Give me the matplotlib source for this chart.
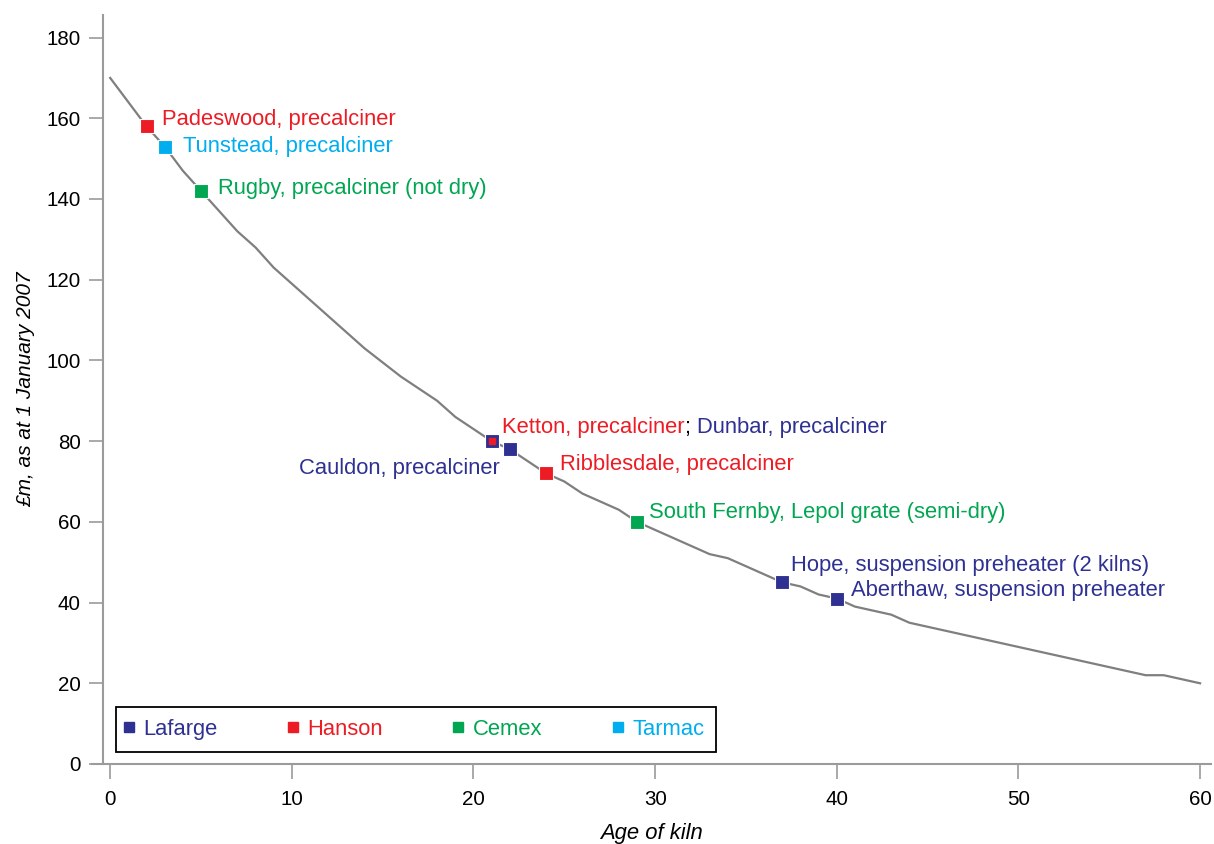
import matplotlib
matplotlib.use("Agg")
import matplotlib.pyplot as plt
from matplotlib.lines import Line2D

plt.rcParams['font.family'] = ['Liberation Sans', 'DejaVu Sans']

# value curve, £m by age of kiln
ages = list(range(0, 61))
values = [170, 164, 158, 153, 147, 142, 137, 132, 128, 123,
          119, 115, 111, 107, 103, 99.5, 96, 93, 90, 86,
          83, 80, 78, 75, 72, 70, 67, 65, 63, 60,
          58, 56, 54, 52, 51, 49, 47, 45, 44, 42,
          41, 39, 38, 37, 35, 34, 33, 32, 31, 30,
          29, 28, 27, 26, 25, 24, 23, 22, 22, 21, 20]

# kilns
kiln_age = [2, 3, 5, 22, 24, 29, 37, 40]
kiln_val = [158, 153, 142, 78, 72, 60, 45, 41]
kiln_co = ['Hanson', 'Tarmac', 'Cemex', 'Lafarge', 'Hanson', 'Cemex', 'Lafarge', 'Lafarge']
kiln_lab = ['Padeswood, precalciner', 'Tunstead, precalciner', 'Rugby, precalciner (not dry)',
            '', 'Ribblesdale, precalciner', 'South Fernby, Lepol grate (semi-dry)',
            'Hope, suspension preheater (2 kilns)', 'Aberthaw, suspension preheater']
# label offsets in points (dx, dy)
kiln_off = [(11, 5), (13, 0), (12, 1.5), (0, 0), (10, 6.5), (9, 6.5), (6.5, 12), (10, 6)]

companies = ['Lafarge', 'Hanson', 'Cemex', 'Tarmac']
colors = {'Lafarge': '#2e3192', 'Hanson': '#ed1c24', 'Cemex': '#00a651', 'Tarmac': '#00aeef'}

fig = plt.figure(figsize=(12.14, 8.44), dpi=100)
ax = fig.add_axes([0.0758, 0.0948, 0.9217, 0.887])

ax.plot(ages, values, color='#7f7f7f', lw=1.6, zorder=2)

fs = 15.8
for a, v, c, lab, off in zip(kiln_age, kiln_val, kiln_co, kiln_lab, kiln_off):
    ax.plot(a, v, 's', color=colors[c], ms=9.5, mec='white', mew=0.8, zorder=3)
    if lab:
        ax.annotate(lab, (a, v), xytext=off, textcoords='offset points',
                    color=colors[c], fontsize=fs, va='center', ha='left')

# Ketton (Hanson) and Cauldon (Lafarge) share one point
ax.plot(21, 80, 's', color=colors['Lafarge'], ms=9.5, mec='white', mew=0.8, zorder=3)
ax.plot(21, 80, 's', color=colors['Hanson'], ms=4.5, zorder=4)
t1 = ax.annotate('Ketton, precalciner', (21, 80), xytext=(7.5, 10), textcoords='offset points',
                 color=colors['Hanson'], fontsize=fs, va='center', ha='left')
t2 = ax.annotate('; ', (1, 0), xycoords=t1, color='black', fontsize=fs, va='bottom', ha='left')
ax.annotate('Dunbar, precalciner', (1, 0), xycoords=t2, color=colors['Lafarge'],
            fontsize=fs, va='bottom', ha='left')
ax.annotate('Cauldon, precalciner', (21, 80), xytext=(6, -19.5), textcoords='offset points',
            color=colors['Lafarge'], fontsize=fs, va='center', ha='right')

ax.set_xlim(-1.0, 60.6)
ax.set_ylim(0, 185.5)
ax.set_xticks(range(0, 61, 10))
ax.set_yticks(range(0, 181, 20))

for s in ['top', 'right']:
    ax.spines[s].set_visible(False)
ax.spines['left'].set_position(('data', -0.4))
for s in ['left', 'bottom']:
    ax.spines[s].set_color('#9b9b9b')
    ax.spines[s].set_linewidth(1.5)
ax.tick_params(axis='both', colors='#9b9b9b', width=1.2, labelsize=14.8, labelcolor='black')
ax.tick_params(axis='y', length=10, pad=6)
ax.tick_params(axis='x', length=11, pad=8)

ax.set_xlabel('Age of kiln', fontsize=15.8, style='italic', labelpad=10)
ax.set_ylabel('£m, as at 1 January 2007', fontsize=15, style='italic', labelpad=8)

handles = [Line2D([], [], ls='none', marker='s', ms=7, color=colors[c]) for c in companies]
leg = ax.legend(handles, companies, ncol=4, loc='lower left', bbox_to_anchor=(0.021, 0.016),
                borderaxespad=0, fontsize=fs, frameon=True, fancybox=False,
                edgecolor='black', framealpha=1, handlelength=0.1, handletextpad=0.6,
                columnspacing=3.4, borderpad=0.55, labelcolor=[colors[c] for c in companies])
leg.get_frame().set_linewidth(1.3)

fig.savefig('out.png', dpi=100)
